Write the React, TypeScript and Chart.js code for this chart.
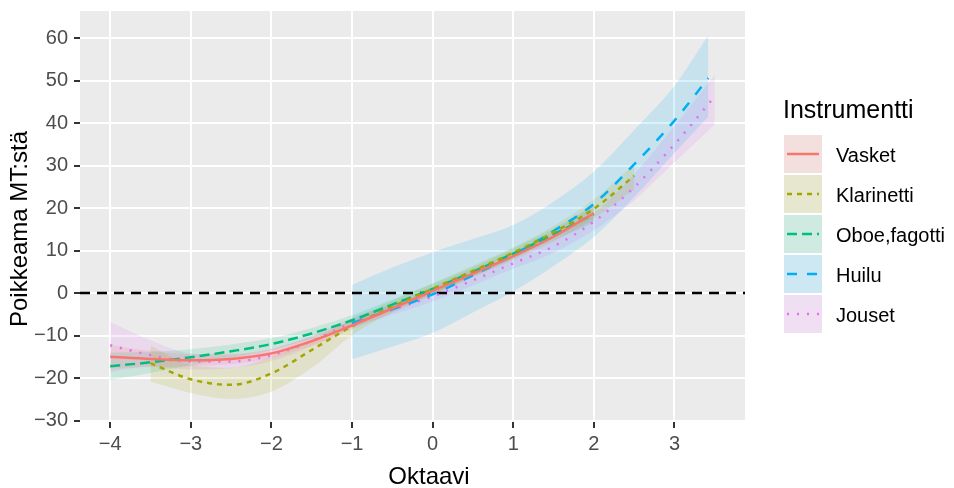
import React, { useEffect, useRef } from "react";
import { Chart, registerables } from "chart.js";

Chart.register(...registerables);

const FONT = '"Liberation Sans", Arial, Helvetica, sans-serif';

const X_TITLE = "Oktaavi";
const Y_TITLE = "Poikkeama MT:stä";
const LEGEND_TITLE = "Instrumentti";

const SERIES_NAMES = ["Vasket", "Klarinetti", "Oboe,fagotti", "Huilu", "Jouset"];
const SERIES_COLORS = ["#F8766D", "#A3A500", "#00BF7D", "#00B0F6", "#E76BF3"];
const SERIES_DASH: number[][] = [[], [5, 5], [10, 5], [10, 10], [2, 8]];

const vasketX = [-4, -3.5, -3, -2.5, -2, -1.5, -1, -0.5, 0, 0.5, 1, 1.5, 2];
const vasketY = [-15.0, -15.5, -15.8, -15.5, -14.2, -11.3, -7.6, -3.6, 0.5, 4.6, 8.7, 13.3, 18.8];
const vasketLo = [-17.8, -17.4, -17.2, -16.7, -15.3, -12.3, -8.6, -4.6, -0.5, 3.6, 7.7, 12.1, 17.0];
const vasketHi = [-12.2, -13.6, -14.4, -14.3, -13.1, -10.3, -6.6, -2.6, 1.5, 5.6, 9.7, 14.5, 20.6];

const klarinettiX = [-3.5, -3, -2.5, -2, -1.5, -1, -0.5, 0, 0.5, 1, 1.5, 2, 2.5];
const klarinettiY = [-16.5, -20.3, -21.6, -18.9, -13.4, -7.8, -3.2, 1.0, 5.2, 9.5, 14.3, 19.8, 27.6];
const klarinettiLo = [-20.8, -23.5, -24.9, -23.2, -17.6, -9.9, -4.6, -0.3, 3.9, 8.2, 12.8, 17.6, 24.4];
const klarinettiHi = [-12.4, -16.9, -17.6, -15.0, -10.9, -6.2, -1.8, 2.3, 6.5, 10.8, 15.8, 22.0, 30.4];

const oboeX = [-4, -3.5, -3, -2.5, -2, -1.5, -1, -0.5, 0, 0.5, 1, 1.5, 2];
const oboeY = [-17.2, -16.3, -15.1, -13.7, -12.0, -9.5, -6.4, -2.7, 1.0, 5.0, 9.3, 13.8, 18.6];
const oboeLo = [-20.4, -18.8, -17.0, -15.3, -13.4, -10.8, -7.6, -3.9, -0.2, 3.9, 8.1, 12.4, 16.6];
const oboeHi = [-14.0, -13.8, -13.2, -12.1, -10.6, -8.2, -5.2, -1.5, 2.2, 6.1, 10.5, 15.2, 20.6];

const huiluX = [-1, -0.5, 0, 0.5, 1, 1.5, 2, 2.5, 3, 3.42];
const huiluY = [-7.1, -3.8, -0.3, 4.2, 9.0, 14.6, 21.0, 30.3, 40.6, 50.6];
const huiluLo = [-15.6, -12.6, -9.4, -4.6, 0.4, 6.4, 13.2, 22.6, 33.0, 41.5];
const huiluHi = [1.9, 6.0, 9.6, 12.7, 16.0, 21.5, 28.6, 38.4, 48.8, 60.7];

const jousetX = [-4, -3.5, -3, -2.5, -2, -1.5, -1, -0.5, 0, 0.5, 1, 1.5, 2, 2.5, 3, 3.5];
const jousetY = [-12.3, -14.6, -16.1, -16.1, -14.6, -11.3, -7.0, -3.9, -0.8, 3.0, 7.0, 11.0, 16.8, 24.9, 35.0, 46.3];
const jousetLo = [-18.5, -17.3, -18.0, -17.7, -16.0, -12.6, -8.2, -5.1, -2.0, 1.8, 5.7, 9.5, 14.8, 21.8, 30.8, 39.7];
const jousetHi = [-6.8, -11.1, -14.2, -14.5, -13.2, -10.0, -5.8, -2.7, 0.4, 4.2, 8.3, 12.5, 18.8, 28.0, 39.4, 51.4];

const SERIES_X = [vasketX, klarinettiX, oboeX, huiluX, jousetX];
const SERIES_Y = [vasketY, klarinettiY, oboeY, huiluY, jousetY];
const SERIES_LO = [vasketLo, klarinettiLo, oboeLo, huiluLo, jousetLo];
const SERIES_HI = [vasketHi, klarinettiHi, oboeHi, huiluHi, jousetHi];

const X_TICKS = [-4, -3, -2, -1, 0, 1, 2, 3];
const Y_TICKS = [-30, -20, -10, 0, 10, 20, 30, 40, 50, 60];
const X_LIMITS = [-4.375, 3.875];
const Y_LIMITS = [-30.35, 66.4];
const REF_LINE_Y = 0;
const RIBBON_ALPHA = 0.15;

function hexToRgba(hex: string, a: number) {
  const r = parseInt(hex.slice(1, 3), 16);
  const g = parseInt(hex.slice(3, 5), 16);
  const b = parseInt(hex.slice(5, 7), 16);
  return `rgba(${r},${g},${b},${a})`;
}

const fmt = (v: number) => (v < 0 ? "\u2212" + Math.abs(v) : String(v));

const panelBg = {
  id: "panelBg",
  beforeDraw(chart: any) {
    const { ctx, chartArea } = chart;
    ctx.save();
    ctx.fillStyle = "#EBEBEB";
    ctx.fillRect(chartArea.left, chartArea.top, chartArea.right - chartArea.left, chartArea.bottom - chartArea.top);
    ctx.restore();
  },
};

const decorations = {
  id: "decorations",
  afterDraw(chart: any) {
    const { ctx } = chart;
    ctx.save();
    ctx.fillStyle = "#000";
    ctx.font = `24px ${FONT}`;
    ctx.textAlign = "center";
    ctx.textBaseline = "alphabetic";
    ctx.fillText(X_TITLE, 429, 484);
    ctx.save();
    ctx.translate(27, 229);
    ctx.rotate(-Math.PI / 2);
    ctx.fillText(Y_TITLE, 0, 0);
    ctx.restore();

    ctx.textAlign = "left";
    ctx.font = `25px ${FONT}`;
    ctx.fillText(LEGEND_TITLE, 783, 118);
    ctx.font = `20px ${FONT}`;
    SERIES_NAMES.forEach((name, i) => {
      const top = 135 + i * 40;
      ctx.fillStyle = "#F2F2F2";
      ctx.fillRect(784, top, 38, 38);
      ctx.fillStyle = hexToRgba(SERIES_COLORS[i], RIBBON_ALPHA);
      ctx.fillRect(784, top, 38, 38);
      const cy = top + 19;
      ctx.beginPath();
      ctx.strokeStyle = SERIES_COLORS[i];
      ctx.lineWidth = 2.5;
      ctx.setLineDash(SERIES_DASH[i]);
      ctx.moveTo(787, cy);
      ctx.lineTo(819, cy);
      ctx.stroke();
      ctx.setLineDash([]);
      ctx.fillStyle = "#000";
      ctx.fillText(name, 836, cy + 7.5);
    });
    ctx.restore();
  },
};

export default function App() {
  const ref = useRef<HTMLCanvasElement>(null);

  useEffect(() => {
    document.body.style.margin = "0";
    const datasets: any[] = [];
    SERIES_NAMES.forEach((name, i) => {
      const xs = SERIES_X[i];
      const loIndex = datasets.length;
      datasets.push({
        label: name + " lo",
        data: xs.map((x, j) => ({ x, y: SERIES_LO[i][j] })),
        borderWidth: 0,
        borderColor: "rgba(0,0,0,0)",
        pointRadius: 0,
        fill: false,
        cubicInterpolationMode: "monotone",
        order: 3,
      });
      datasets.push({
        label: name + " hi",
        data: xs.map((x, j) => ({ x, y: SERIES_HI[i][j] })),
        borderWidth: 0,
        borderColor: "rgba(0,0,0,0)",
        backgroundColor: hexToRgba(SERIES_COLORS[i], RIBBON_ALPHA),
        pointRadius: 0,
        fill: loIndex,
        cubicInterpolationMode: "monotone",
        order: 3,
      });
    });
    datasets.push({
      label: "ref",
      data: X_LIMITS.map((x) => ({ x, y: REF_LINE_Y })),
      borderColor: "#000",
      borderWidth: 2.5,
      borderDash: [10, 7],
      pointRadius: 0,
      fill: false,
      order: 2,
    });
    SERIES_NAMES.forEach((name, i) => {
      datasets.push({
        label: name,
        data: SERIES_X[i].map((x, j) => ({ x, y: SERIES_Y[i][j] })),
        borderColor: SERIES_COLORS[i],
        borderWidth: 2.5,
        borderDash: SERIES_DASH[i],
        pointRadius: 0,
        fill: false,
        cubicInterpolationMode: "monotone",
        order: 1,
      });
    });

    const chart = new Chart(ref.current as HTMLCanvasElement, {
      type: "line",
      data: { datasets },
      options: {
        responsive: false,
        animation: false,
        layout: { padding: { top: 11, right: 209, left: 0, bottom: 0 } },
        plugins: { legend: { display: false }, tooltip: { enabled: false } },
        scales: {
          x: {
            type: "linear",
            min: X_LIMITS[0],
            max: X_LIMITS[1],
            afterFit: (s: any) => {
              s.height = 66;
              s.paddingLeft = 0;
              s.paddingRight = 0;
            },
            afterBuildTicks: (s: any) => {
              s.ticks = X_TICKS.map((v) => ({ value: v }));
            },
            ticks: {
              callback: (v: any) => fmt(Number(v)),
              color: "#4D4D4D",
              font: { size: 20, family: FONT },
              padding: 4,
              maxRotation: 0,
              autoSkip: false,
            },
            grid: { color: "#FFFFFF", lineWidth: 2, tickLength: 6, tickColor: "#333333", tickWidth: 2 },
            border: { display: false },
          },
          y: {
            type: "linear",
            min: Y_LIMITS[0],
            max: Y_LIMITS[1],
            afterFit: (s: any) => {
              s.width = 80;
              s.paddingTop = 0;
              s.paddingBottom = 0;
            },
            afterBuildTicks: (s: any) => {
              s.ticks = Y_TICKS.map((v) => ({ value: v }));
            },
            ticks: {
              callback: (v: any) => fmt(Number(v)),
              color: "#4D4D4D",
              font: { size: 20, family: FONT },
              padding: 6,
              autoSkip: false,
            },
            grid: { color: "#FFFFFF", lineWidth: 2, tickLength: 6, tickColor: "#333333", tickWidth: 2 },
            border: { display: false },
          },
        },
      } as any,
      plugins: [panelBg, decorations],
    });
    return () => chart.destroy();
  }, []);

  return (
    <div style={{ position: "absolute", left: 0, top: 0, width: 954, height: 488, background: "#fff" }}>
      <canvas ref={ref} width={954} height={488} style={{ width: 954, height: 488, display: "block" }} />
    </div>
  );
}
